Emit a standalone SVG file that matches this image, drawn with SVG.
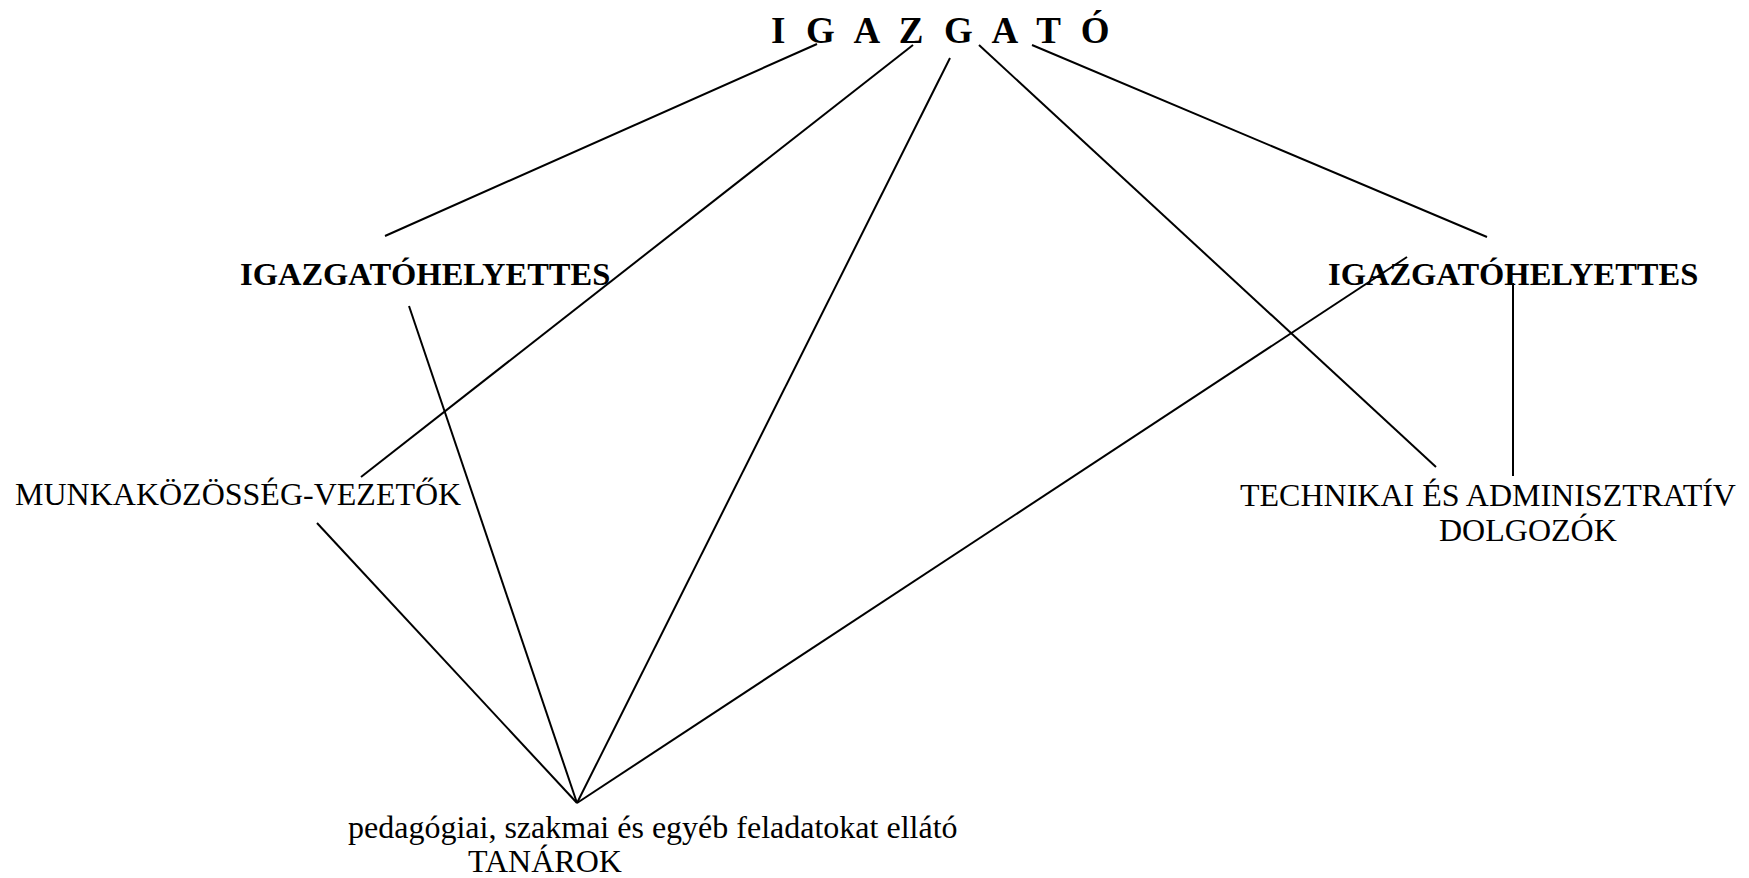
<svg xmlns="http://www.w3.org/2000/svg" width="1749" height="878" viewBox="0 0 1749 878">
  <style>
    text { font-family: "Liberation Serif", "Times New Roman", serif; fill: #000; }
    .head { font-size: 37px; font-weight: bold; letter-spacing: 5.7px; }
    .bold { font-size: 32.5px; font-weight: bold; }
    .reg { font-size: 32px; }
    #connectors line { stroke: #000; stroke-width: 2; stroke-linecap: butt; }
  </style>
  <rect width="1749" height="878" fill="#fff"/>

  <g id="connectors">
    <line x1="817" y1="44" x2="385" y2="236"/>
    <line x1="913" y1="45" x2="361" y2="477"/>
    <line x1="950" y1="58" x2="577" y2="803"/>
    <line x1="979" y1="45" x2="1436" y2="467"/>
    <line x1="1032" y1="45" x2="1487" y2="237"/>
    <line x1="409" y1="306" x2="577" y2="803"/>
    <line x1="317" y1="523" x2="577" y2="803"/>
    <line x1="1407" y1="257" x2="577" y2="803"/>
    <line x1="1513" y1="283" x2="1513" y2="476"/>
  </g>

  <g id="igazgato">
    <text class="head" x="771" y="43">I G A Z G A T Ó</text>
  </g>
  <g id="helyettes-bal">
    <text class="bold" x="240" y="285">IGAZGATÓHELYETTES</text>
  </g>
  <g id="helyettes-jobb">
    <text class="bold" x="1328" y="285">IGAZGATÓHELYETTES</text>
  </g>
  <g id="munkakozosseg">
    <text class="reg" x="15" y="505">MUNKAKÖZÖSSÉG-VEZETŐK</text>
  </g>
  <g id="technikai">
    <text class="reg" x="1240" y="506">TECHNIKAI ÉS ADMINISZTRATÍV</text>
    <text class="reg" x="1439" y="541">DOLGOZÓK</text>
  </g>
  <g id="tanarok">
    <text class="reg" x="348" y="838">pedagógiai, szakmai és egyéb feladatokat ellátó</text>
    <text class="reg" x="468" y="872">TANÁROK</text>
  </g>
</svg>
